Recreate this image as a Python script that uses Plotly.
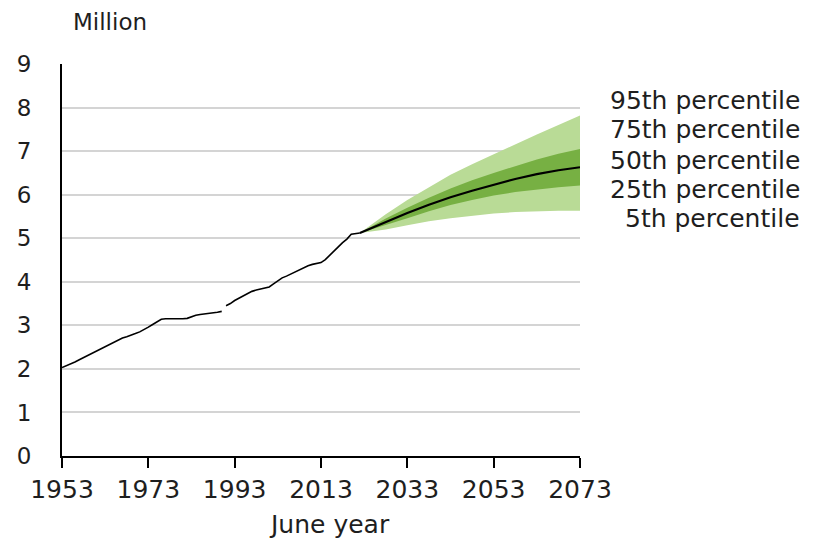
import plotly.graph_objects as go

# Historical estimates (million), June years
hist_years_a = list(range(1953, 1991))
hist_pop_a = [2.03, 2.07, 2.11, 2.16, 2.21, 2.26, 2.31, 2.36, 2.40, 2.46,
              2.51, 2.56, 2.61, 2.66, 2.71, 2.74, 2.77, 2.81, 2.85, 2.90,
              2.96, 3.02, 3.08, 3.14, 3.15, 3.15, 3.14, 3.14, 3.15, 3.16,
              3.20, 3.23, 3.25, 3.26, 3.27, 3.29, 3.30, 3.32]

hist_years_b = list(range(1991, 2023))
hist_pop_b = [3.45, 3.50, 3.57, 3.62, 3.68, 3.73, 3.78, 3.81, 3.83, 3.86,
              3.88, 3.95, 4.03, 4.09, 4.13, 4.18, 4.23, 4.27, 4.32, 4.37,
              4.40, 4.42, 4.44, 4.51, 4.60, 4.70, 4.80, 4.90, 4.98, 5.09,
              5.11, 5.12]

# Projection percentiles
proj_years = [2022, 2028, 2033, 2038, 2043, 2048, 2053, 2058, 2063, 2068, 2073]
p95 = [5.12, 5.55, 5.88, 6.18, 6.46, 6.70, 6.93, 7.15, 7.38, 7.60, 7.82]
p75 = [5.12, 5.45, 5.70, 5.93, 6.14, 6.33, 6.50, 6.66, 6.81, 6.94, 7.05]
p50 = [5.12, 5.38, 5.58, 5.77, 5.94, 6.09, 6.23, 6.36, 6.47, 6.56, 6.63]
p25 = [5.12, 5.30, 5.46, 5.62, 5.76, 5.88, 5.98, 6.06, 6.12, 6.17, 6.21]
p5 = [5.12, 5.20, 5.30, 5.39, 5.46, 5.52, 5.57, 5.60, 5.62, 5.63, 5.63]

x_ticks = [1953, 1973, 1993, 2013, 2033, 2053, 2073]
pct_labels = ["95th percentile", "75th percentile", "50th percentile",
              "25th percentile", "5th percentile"]

LIGHT = "#b9db96"
DARK = "#77b043"
FONT = "DejaVu Sans"
TXT = "#1e1e1e"

fig = go.Figure()

# outer band 5th-95th
fig.add_trace(go.Scatter(x=proj_years, y=p5, mode="lines",
                         line=dict(width=0), showlegend=False, hoverinfo="skip"))
fig.add_trace(go.Scatter(x=proj_years, y=p95, mode="lines", fill="tonexty",
                         fillcolor=LIGHT, line=dict(width=0), showlegend=False))
# inner band 25th-75th
fig.add_trace(go.Scatter(x=proj_years, y=p25, mode="lines",
                         line=dict(width=0), showlegend=False, hoverinfo="skip"))
fig.add_trace(go.Scatter(x=proj_years, y=p75, mode="lines", fill="tonexty",
                         fillcolor=DARK, line=dict(width=0), showlegend=False))
fig.add_trace(go.Scatter(x=proj_years, y=p50, mode="lines",
                         line=dict(color="black", width=2.2), showlegend=False))

fig.add_trace(go.Scatter(x=hist_years_a, y=hist_pop_a, mode="lines",
                         line=dict(color="black", width=1.6), showlegend=False))
fig.add_trace(go.Scatter(x=hist_years_b, y=hist_pop_b, mode="lines",
                         line=dict(color="black", width=1.6), showlegend=False))

# page body adds an 8px offset, so the figure is a bit smaller than the window
fig.update_layout(
    width=814, height=533,
    margin=dict(l=54, r=242, t=56, b=85),
    plot_bgcolor="white", paper_bgcolor="white",
    font=dict(family=FONT, color=TXT),
    showlegend=False,
)
fig.update_xaxes(
    range=[1953, 2073], tickvals=x_ticks, automargin=False,
    showgrid=False, zeroline=False,
    showline=True, linecolor="black", linewidth=2,
    ticks="outside", ticklen=10, tickwidth=2, tickcolor="black",
    tickfont=dict(size=25, family=FONT, color=TXT),
)
fig.update_yaxes(
    range=[0, 9], dtick=1, automargin=False,
    showgrid=True, gridcolor="#d4d4d4", gridwidth=1.5,
    zeroline=False,
    showline=True, linecolor="black", linewidth=2,
    ticks="", ticklabelstandoff=24,
    tickfont=dict(size=23, family=FONT, color=TXT),
)

# percentile labels on the right
label_y = [0.906, 0.832, 0.755, 0.681, 0.607]
for txt, yy in zip(pct_labels, label_y):
    fig.add_annotation(text=txt, xref="paper", yref="paper", x=1.428, y=yy,
                       xanchor="right", yanchor="middle", showarrow=False,
                       font=dict(size=25, family=FONT, color=TXT))

fig.add_annotation(text="Million", xref="paper", yref="paper", x=0.0927, y=1.108,
                   xanchor="center", yanchor="middle", showarrow=False,
                   font=dict(size=23, family=FONT, color=TXT))
fig.add_annotation(text="June year", xref="paper", yref="paper", x=0.517, y=-0.176,
                   xanchor="center", yanchor="middle", showarrow=False,
                   font=dict(size=25, family=FONT, color=TXT))

fig.write_html("out.html")
